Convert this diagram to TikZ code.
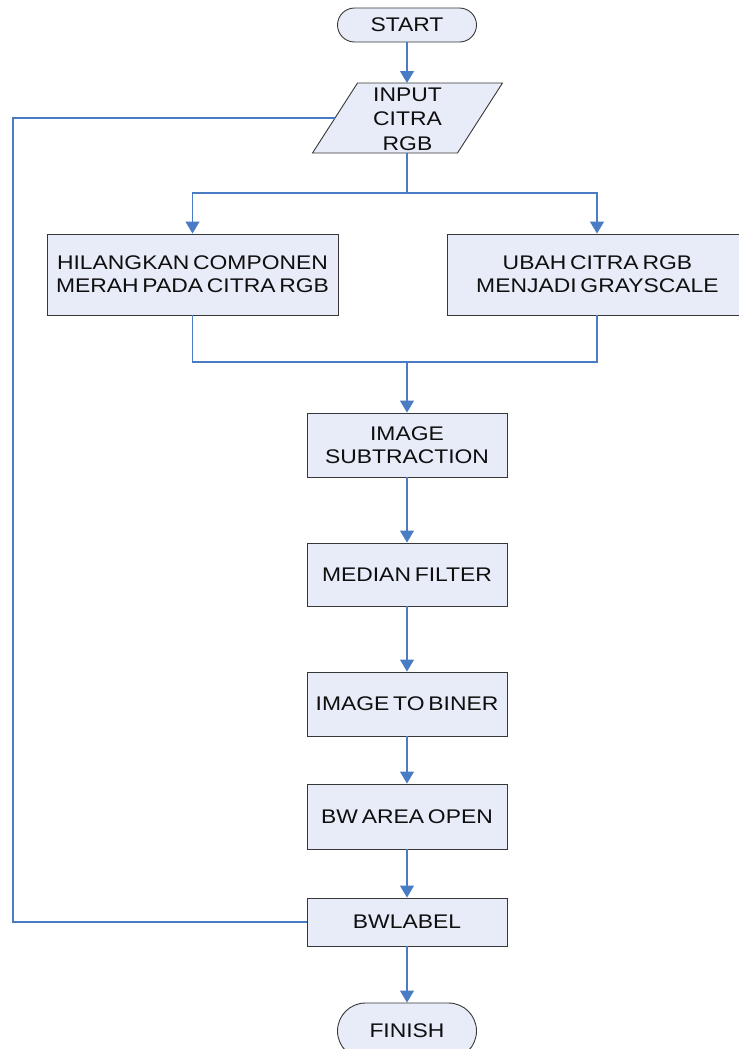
\documentclass[tikz,border=0pt]{standalone}
\usepackage{fontspec}
\setmainfont{Liberation Sans}[FakeStretch=1.16,WordSpace=0.6]
\usetikzlibrary{arrows.meta,shapes.misc}

\definecolor{boxfill}{RGB}{232,236,248}
\definecolor{boxline}{RGB}{55,55,55}
\definecolor{flowline}{RGB}{74,124,196}
\definecolor{txt}{RGB}{15,15,15}

\tikzset{
  every node/.style={font=\fontsize{19.8}{23}\selectfont, text=txt, align=center, inner sep=0pt},
  procbox/.style={rectangle, draw=boxline, fill=boxfill, line width=0.9bp},
  termbox/.style={rounded rectangle, draw=boxline, fill=boxfill, line width=0.9bp},
  flow/.style={draw=flowline, line width=1.1bp},
  flowarrow/.style={flow, -{Triangle[width=14bp,length=12bp]}},
}

\begin{document}
\begin{tikzpicture}[x=1bp, y=-1bp]
  \useasboundingbox (0,0) rectangle (739,1049);

  % terminators
  \node[termbox, minimum width=139bp, minimum height=34bp] (start) at (407,25) {START};
  \node[termbox, minimum width=139bp, minimum height=56bp] (finish) at (407,1031) {FINISH};

  % input parallelogram
  \filldraw[fill=boxfill, draw=boxline, line width=0.9bp]
    (357.5,83) -- (502.5,83) -- (457.5,153) -- (312.5,153) -- cycle;
  \node[minimum width=145bp, minimum height=70bp,
        font=\fontsize{19.8}{24.5}\selectfont] (input) at (407.5,119) {INPUT\\CITRA\\RGB};
  \coordinate (inL) at (335,118);

  % process boxes
  \node[procbox, minimum width=291bp, minimum height=81bp] (hil) at (192.5,274.5)
    {HILANGKAN COMPONEN\\MERAH PADA CITRA RGB};
  \node[procbox, minimum width=320bp, minimum height=81bp, anchor=west] (ubah) at (447,274.5)
    {\hspace*{-20bp}UBAH CITRA RGB\\\hspace*{-20bp}MENJADI GRAYSCALE};
  \node[procbox, minimum width=200bp, minimum height=64bp] (sub) at (407,445)
    {IMAGE\\SUBTRACTION};
  \node[procbox, minimum width=200bp, minimum height=63bp] (med) at (407,574.5)
    {MEDIAN FILTER};
  \node[procbox, minimum width=200bp, minimum height=64bp] (bin) at (407,704)
    {IMAGE TO BINER};
  \node[procbox, minimum width=200bp, minimum height=65bp] (bwa) at (407,816.5)
    {BW AREA OPEN};
  \node[procbox, minimum width=200bp, minimum height=48bp] (bwl) at (407,922)
    {BWLABEL};

  % junction points
  \coordinate (split) at (407,193);
  \coordinate (join) at (407,362);
  \coordinate (loopB) at (13,922);
  \coordinate (loopT) at (13,118);
  \coordinate (ubahTop) at ([xshift=150bp]ubah.north west);
  \coordinate (ubahBot) at ([xshift=150bp]ubah.south west);

  % connectors
  \draw[flowarrow] (start.south) -- (407,83);
  \draw[flow] (407,153) -- (split);
  \draw[flowarrow] (split) -| (hil.north);
  \draw[flowarrow] (split) -| (ubahTop);
  \draw[flow] (hil.south) |- (join) -| (ubahBot);
  \draw[flowarrow] (join) -- (sub.north);
  \draw[flowarrow] (sub.south) -- (med.north);
  \draw[flowarrow] (med.south) -- (bin.north);
  \draw[flowarrow] (bin.south) -- (bwa.north);
  \draw[flowarrow] (bwa.south) -- (bwl.north);
  \draw[flowarrow] (bwl.south) -- (finish.north);
  \draw[flow] (bwl.west) -- (loopB) -- (loopT) -- (inL);
\end{tikzpicture}
\end{document}
